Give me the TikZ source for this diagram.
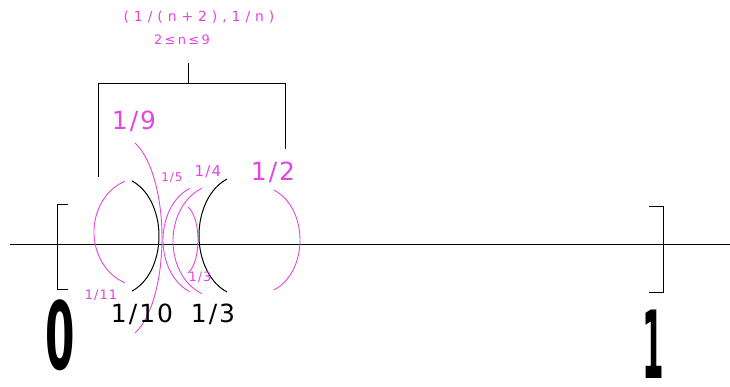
\documentclass[tikz,border=0pt]{standalone}
\usepackage{fontspec}
\setmainfont{DejaVu Sans}
\newfontfamily\labelfont[LetterSpace=8]{DejaVu Sans}
\newfontfamily\widefont[LetterSpace=35]{DejaVu Sans}
\usepackage{graphicx}
\usetikzlibrary{calc}
\definecolor{PinkMag}{RGB}{226, 70, 226}
% one bracket of an interval, drawn as a piece of an ellipse
\newcommand{\parenarc}[7]{\draw[#1] plot[domain=#6:#7, samples=40, smooth] ({#2+#4*cos(\x)}, {#3+#5*sin(\x)});}
\newcommand{\bigdigit}[2]{\scalebox{#1}[1]{\fontsize{94}{94}\selectfont\bfseries #2}}

\begin{document}
\begin{tikzpicture}[x=1pt, y=-1pt, line width=1pt,
    mag/.style={draw=PinkMag, line width=0.9pt},
    blk/.style={draw=black, line width=1pt},
    bigfrac/.style={inner sep=0pt, font=\labelfont\fontsize{25}{25}\selectfont},
    smallfrac/.style={inner sep=0pt, text=PinkMag, font=\labelfont\fontsize{#1}{#1}\selectfont}]
        \useasboundingbox (0,0) rectangle (730,386);

        % Truc so
        \coordinate (axisL) at (10,244);
        \coordinate (axisR) at (730,244);
        \draw[blk] (axisL) -- (axisR);

        % Doan [0,1]
        \draw[blk] (68,204) -- (57,204) -- (57,289) -- (68,289);
        \draw[blk] (649,206) -- (663,206) -- (663,292) -- (649,292);
        \node[inner sep=0pt] (zero) at (60,335) {\bigdigit{0.45}{0}};
        \node[inner sep=0pt] (one) at (653,344) {\bigdigit{0.33}{1}};

        % Cac khoang (1/(n+2),1/n)
        \parenarc{mag}{141}{232}{47}{54}{110}{250}
        \parenarc{blk}{118}{236}{41}{58.5}{-70}{70}
        \parenarc{mag}{121}{238}{41}{101}{-70}{70}
        \parenarc{mag}{204}{240}{41}{55}{110}{250}
        \parenarc{mag}{217}{241}{44}{56}{110}{250}
        \parenarc{mag}{183}{240}{15}{35}{-70}{70}
        \parenarc{blk}{241.5}{235.5}{42.5}{60}{110}{250}
        \parenarc{mag}{260.5}{240}{39.5}{53}{-70}{70}

        % Nhan
        \node[bigfrac, text=PinkMag] (lblNine) at (134,121) {1/9};
        \node[bigfrac, text=PinkMag] (lblHalf) at (273,172) {1/2};
        \node[bigfrac] (lblTenth) at (142,314) {1/10};
        \node[bigfrac] (lblThird) at (213,314) {1/3};
        \node[smallfrac=12] (lblFifth) at (172,178) {1/5};
        \node[smallfrac=15] (lblFourth) at (208,172) {1/4};
        \node[smallfrac=13] (lblEleventh) at (101,295) {1/11};
        \node[smallfrac=13] (lblThirdSmall) at (200,277) {1/3};

        % Ngoac tren
        \node[inner sep=0pt, text=PinkMag, font=\widefont\fontsize{14}{14}\selectfont] (lblRange) at (199,17) {(1/(n+2),1/n)};
        \node[smallfrac=13, font=\labelfont\addfontfeature{LetterSpace=18}\fontsize{13}{13}\selectfont] (lblCond) at (182,40) {2≤n≤9};
        \coordinate (stemTop) at (188,63);
        \coordinate (stemBot) at (188,83);
        \coordinate (braceL) at (98,83);
        \coordinate (braceR) at (285,83);
        \coordinate (legL) at (98,177);
        \coordinate (legR) at (285,149);
        \draw[blk] (stemTop) -- (stemBot);
        \draw[blk] (legL) -- (braceL) -- (braceR) -- (legR);
      \end{tikzpicture}
\end{document}
